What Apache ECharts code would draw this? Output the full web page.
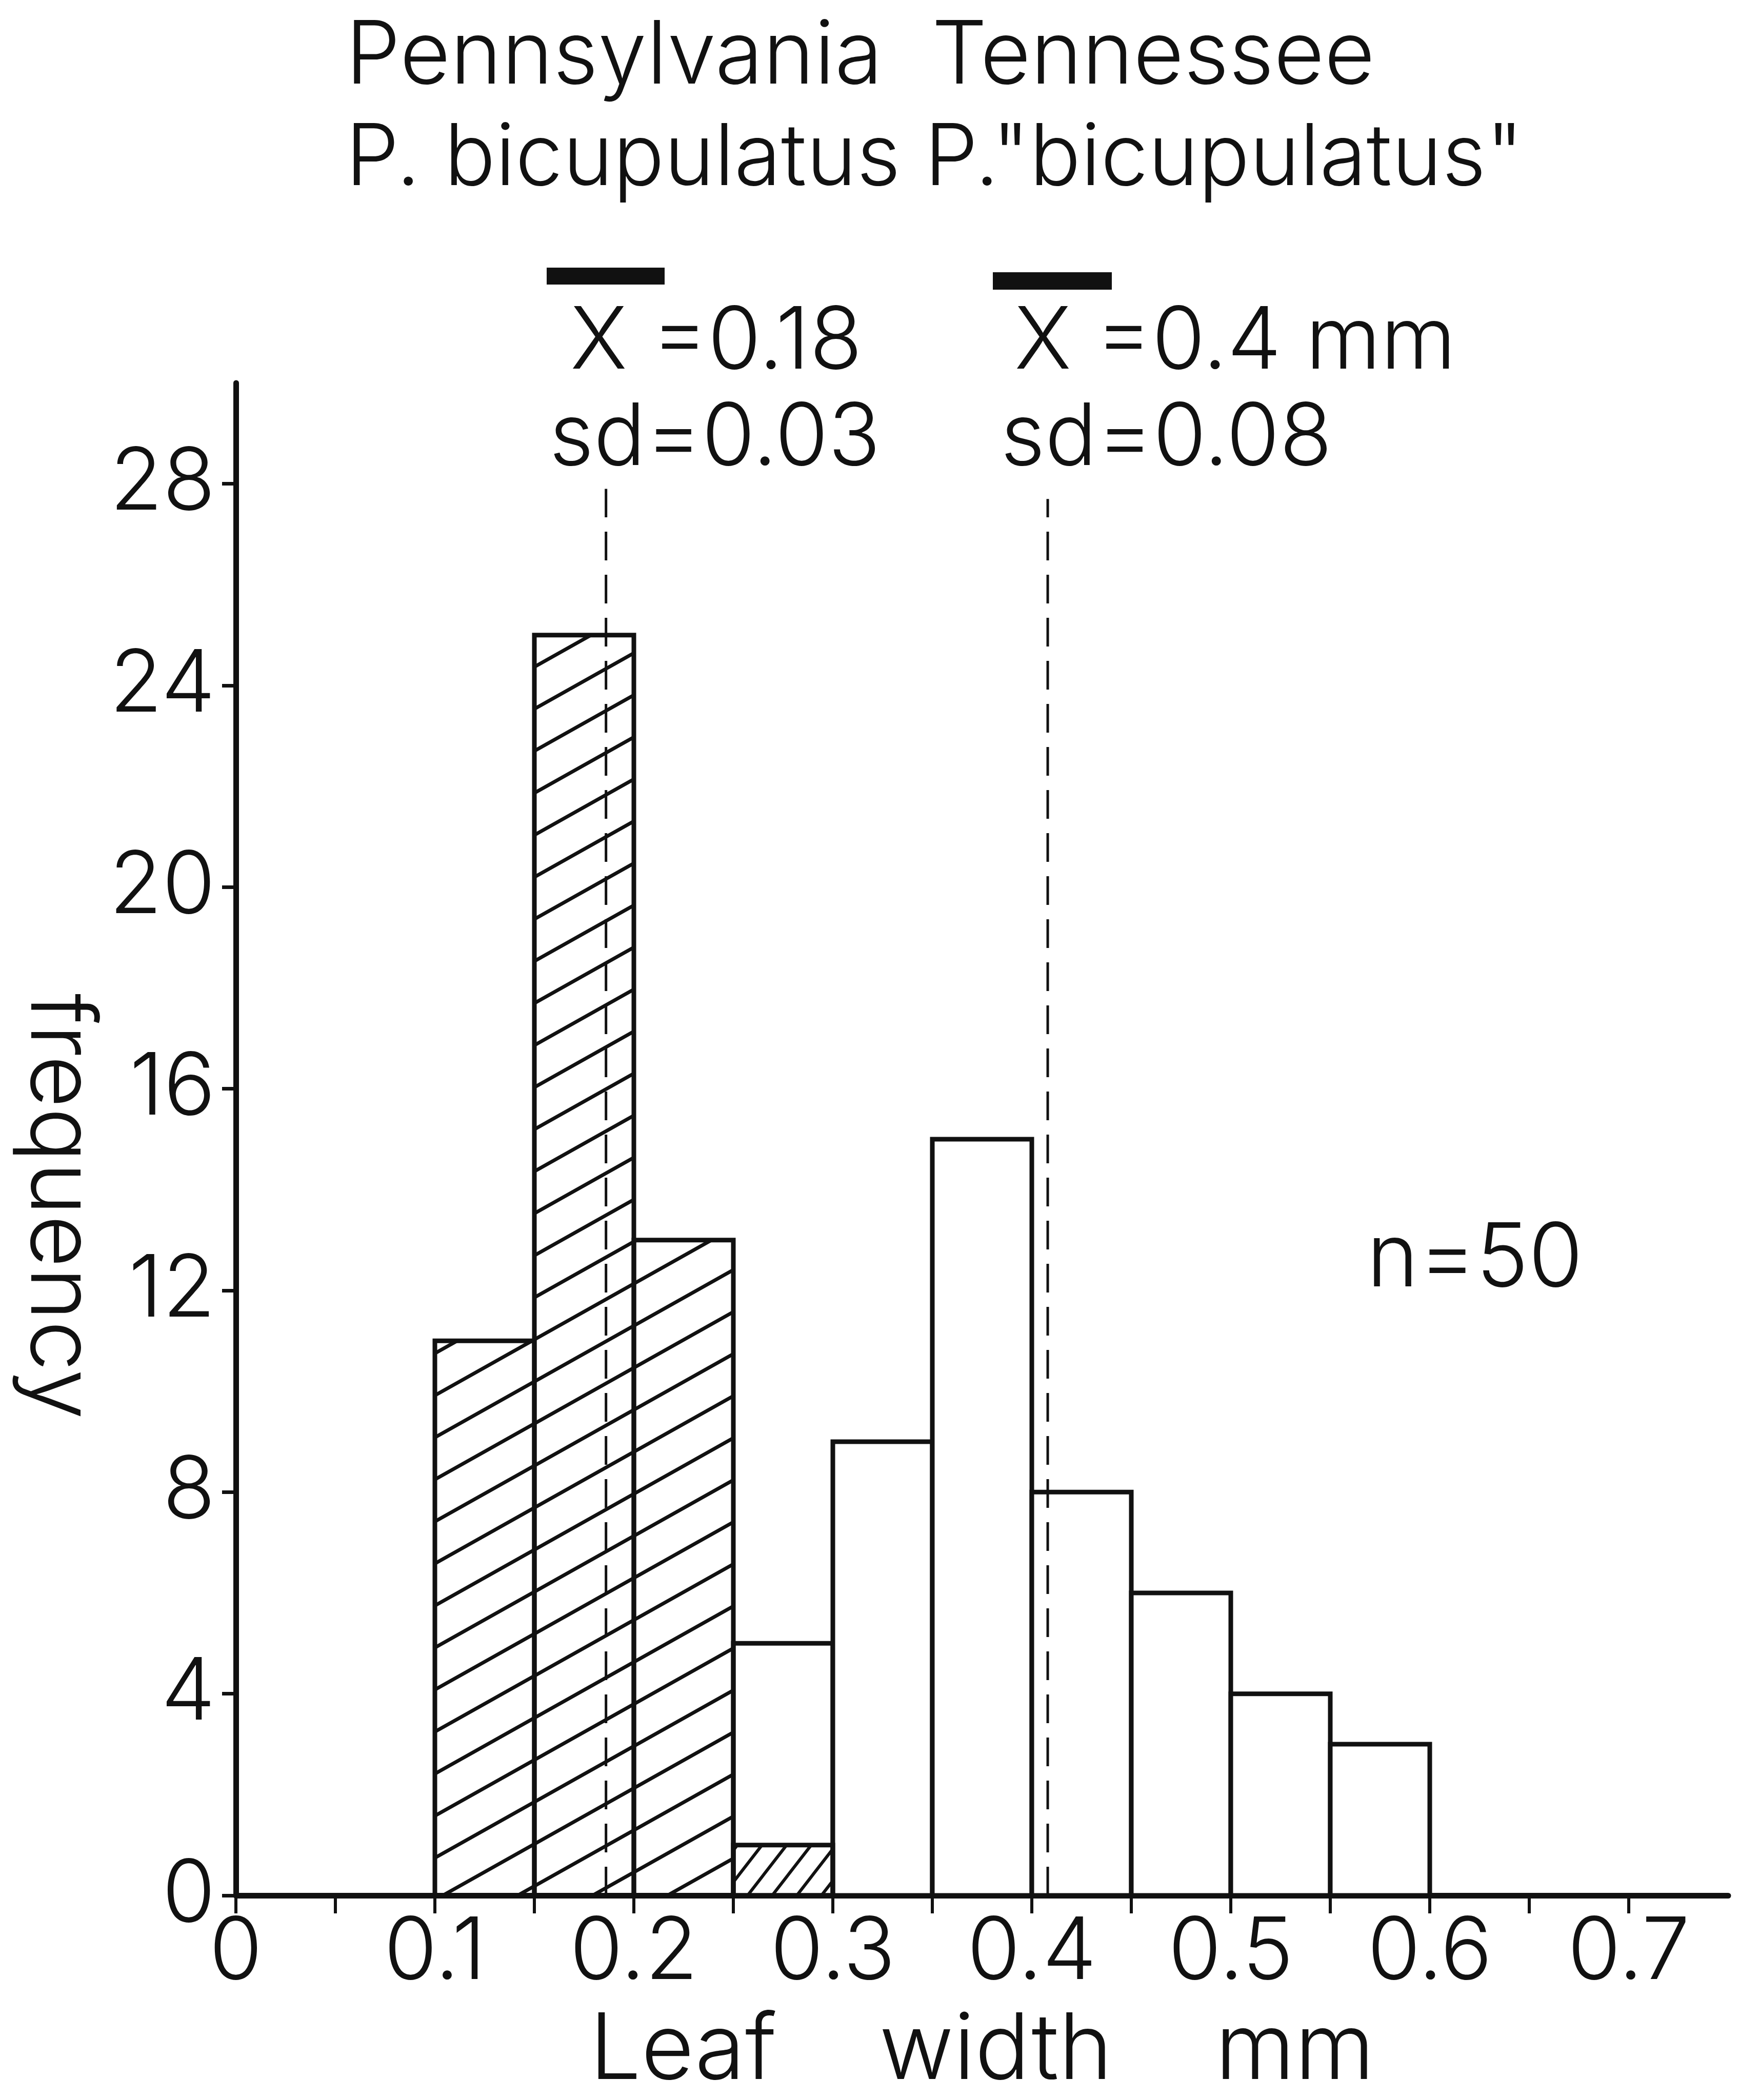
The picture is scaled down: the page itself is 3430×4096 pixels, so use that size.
<!DOCTYPE html>
<html><head><meta charset="utf-8">
<script src="https://cdn.jsdelivr.net/npm/echarts@6/dist/echarts.min.js"></script>
<style>html,body{margin:0;padding:0;background:#fff}#c{width:3430px;height:4096px}</style>
</head><body><div id="c"></div>
<script>
// ---- data ----
const binStart = [0.10, 0.15, 0.20, 0.25, 0.30, 0.35, 0.40, 0.45, 0.50, 0.55];
const binEnd   = [0.15, 0.20, 0.25, 0.30, 0.35, 0.40, 0.45, 0.50, 0.55, 0.60];
const pennsylvania = [11, 25, 13, 1, 0, 0, 0, 0, 0, 0];   // P. bicupulatus (hatched)
const tennessee    = [0, 0, 0, 5, 9, 15, 8, 6, 4, 3];     // P. "bicupulatus" (open)
const meanX   = [0.186, 0.408];
const meanTop = [27.9, 27.7];
const xTickValues  = [0, 0.05, 0.1, 0.15, 0.2, 0.25, 0.3, 0.35, 0.4, 0.45, 0.5, 0.55, 0.6, 0.65, 0.7];
const xLabelValues = [0, 0.1, 0.2, 0.3, 0.4, 0.5, 0.6, 0.7];
const yTickValues  = [0, 4, 8, 12, 16, 20, 24, 28];
const titleLines = ['Pennsylvania  Tennessee', 'P. bicupulatus P."bicupulatus"'];
const statsPenn = ['X =0.18', 'sd=0.03'];
const statsTenn = ['X =0.4 mm', 'sd=0.08'];
const sampleSize = 'n=50';
const xName = 'Leaf    width    mm';
const yName = 'frequency';

// ---- styles ----
const INK = '#111';
const FONT = 'Inter, "DejaVu Sans", sans-serif';
const FW = 300;
const FS = 168;

function makeHatch(w, h, lw) {
  const c = document.createElement('canvas');
  c.width = w; c.height = h;
  const g = c.getContext('2d');
  g.strokeStyle = INK; g.lineWidth = lw; g.lineCap = 'butt';
  for (let k = -1; k <= 1; k++) {
    g.beginPath(); g.moveTo(-w, 2 * h + k * h); g.lineTo(2 * w, -h + k * h); g.stroke();
  }
  return c;
}
const hatchWide  = makeHatch(146, 82, 7);
const hatchSteep = makeHatch(48, 62, 6);
const steepHatchBins = [0.25];

const pennData = binStart.map((s, i) => [s, binEnd[i], pennsylvania[i]]).filter(d => d[2] > 0);
const tennData = binStart.map((s, i) => [s, binEnd[i], tennessee[i]]).filter(d => d[2] > 0);

function barRenderer(hatched) {
  return function (params, api) {
    const x0 = api.value(0), x1 = api.value(1), v = api.value(2);
    const p0 = api.coord([x0, 0]);
    const p1 = api.coord([x1, v]);
    let fill = '#fff';
    if (hatched) {
      const img = steepHatchBins.indexOf(x0) >= 0 ? hatchSteep : hatchWide;
      fill = { type: 'pattern', image: img, repeat: 'repeat' };
    }
    return {
      type: 'rect',
      shape: { x: p0[0], y: p1[1], width: p1[0] - p0[0], height: p0[1] - p1[1] },
      style: { fill: fill, stroke: INK, lineWidth: 9, lineJoin: 'miter' }
    };
  };
}

function txt(text, x, baseline, fs, align) {
  return {
    type: 'text', x: x, y: baseline - 0.297 * fs, z: 50,
    style: { text: text, font: FW + ' ' + fs + 'px ' + FONT, fill: INK, align: align || 'left', verticalAlign: 'middle' }
  };
}

const chart = echarts.init(document.getElementById('c'), null, { renderer: 'canvas' });
const option = {
  backgroundColor: '#fff',
  animation: false,
  grid: { left: 460, right: 60, top: 747, bottom: 399, containLabel: false, outerBoundsMode: 'none' },
  xAxis: {
    type: 'value', min: 0, max: 0.75,
    name: xName, nameLocation: 'middle', nameGap: 215,
    nameTextStyle: { fontFamily: FONT, fontWeight: FW, fontSize: 178, color: INK },
    axisLine: { show: true, onZero: false, lineStyle: { color: INK, width: 11 } },
    axisTick: { show: true, inside: false, length: 35, customValues: xTickValues, lineStyle: { color: INK, width: 6 } },
    axisLabel: { show: true, margin: 28, customValues: xLabelValues, fontFamily: FONT, fontWeight: FW, fontSize: FS, color: INK },
    splitLine: { show: false }
  },
  yAxis: {
    type: 'value', min: 0, max: 30,
    name: yName, nameLocation: 'middle', nameRotate: -90, nameGap: 224,
    nameTextStyle: { fontFamily: FONT, fontWeight: FW, fontSize: 176, color: INK, padding: [0, 0, 0, 262] },
    axisLine: { show: true, onZero: false, lineStyle: { color: INK, width: 11 } },
    axisTick: { show: true, inside: false, length: 27, customValues: yTickValues, lineStyle: { color: INK, width: 7 } },
    axisLabel: { show: true, margin: 40, customValues: yTickValues, fontFamily: FONT, fontWeight: FW, fontSize: FS, color: INK },
    splitLine: { show: false }
  },
  series: [
    { type: 'custom', name: 'Tennessee', renderItem: barRenderer(false), data: tennData, z: 2,
      encode: { x: [0, 1], y: 2 } },
    { type: 'custom', name: 'Pennsylvania', renderItem: barRenderer(true), data: pennData, z: 3,
      encode: { x: [0, 1], y: 2 } },
    { type: 'line', name: 'mean Pennsylvania', data: [[meanX[0], 0], [meanX[0], meanTop[0]]], symbol: 'none', z: 5,
      lineStyle: { color: INK, width: 5, type: [56, 28] } },
    { type: 'line', name: 'mean Tennessee', data: [[meanX[1], 0], [meanX[1], meanTop[1]]], symbol: 'none', z: 5,
      lineStyle: { color: INK, width: 5, type: [56, 28] } }
  ],
  graphic: [
    txt(titleLines[0], 674, 162, 170),
    txt(titleLines[1], 674, 360, 166),
    { type: 'rect', shape: { x: 1066, y: 522, width: 230, height: 33 }, style: { fill: INK }, z: 50 },
    { type: 'rect', shape: { x: 1936, y: 531, width: 232, height: 34 }, style: { fill: INK }, z: 50 },
    txt(statsPenn[0], 1112, 718, 168),
    txt(statsPenn[1], 1071, 906, 168),
    txt(statsTenn[0], 1978, 718, 168),
    txt(statsTenn[1], 1951, 906, 168),
    txt(sampleSize, 2665, 2508, 172)
  ]
};
chart.setOption(option);
</script>
</body></html>
